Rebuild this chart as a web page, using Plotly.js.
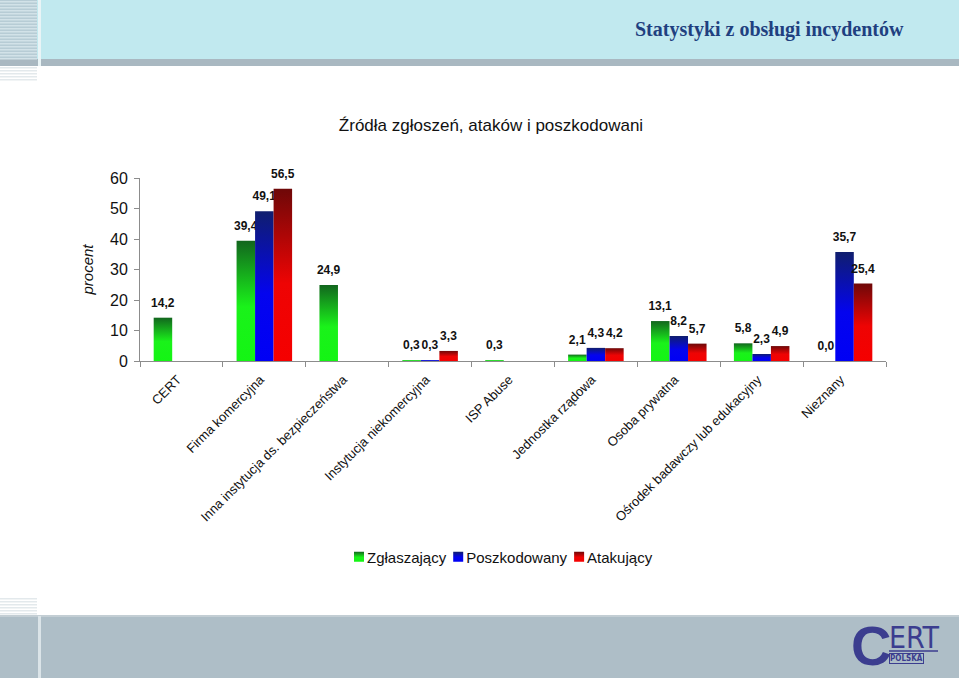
<!DOCTYPE html>
<html>
<head>
<meta charset="utf-8">
<script src="https://cdn.plot.ly/plotly-3.0.1.min.js"></script>
<style>
html,body{margin:0;padding:0;background:#fff;}
#chart{width:959px;height:678px;}
</style>
</head>
<body>
<svg width="0" height="0" style="position:absolute">
  <defs>
    <linearGradient id="grad0" x1="0" y1="0" x2="0" y2="1">
      <stop offset="0" stop-color="#12661e"/>
      <stop offset="0.55" stop-color="#1af21a"/>
      <stop offset="1" stop-color="#14f514"/>
    </linearGradient>
    <linearGradient id="grad1" x1="0" y1="0" x2="0" y2="1">
      <stop offset="0" stop-color="#101e6e"/>
      <stop offset="0.55" stop-color="#0404ee"/>
      <stop offset="1" stop-color="#0000f5"/>
    </linearGradient>
    <linearGradient id="grad2" x1="0" y1="0" x2="0" y2="1">
      <stop offset="0" stop-color="#6e0808"/>
      <stop offset="0.55" stop-color="#ee0404"/>
      <stop offset="1" stop-color="#f50000"/>
    </linearGradient>
  </defs>
</svg>
<div id="chart"></div>
<script>
const categories = ['CERT', 'Firma komercyjna', 'Inna instytucja ds. bezpieczeństwa', 'Instytucja niekomercyjna', 'ISP Abuse', 'Jednostka rządowa', 'Osoba prywatna', 'Ośrodek badawczy lub edukacyjny', 'Nieznany'];
const seriesNames = ['Zgłaszający', 'Poszkodowany', 'Atakujący'];
const zglaszajacy = [14.2, 39.4, 24.9, 0.3, 0.3, 2.1, 13.1, 5.8, 0.0];
const poszkodowany = [null, 49.1, null, 0.3, null, 4.3, 8.2, 2.3, 35.7];
const atakujacy = [null, 56.5, null, 3.3, null, 4.2, 5.7, 4.9, 25.4];
const yTicks = [0, 10, 20, 30, 40, 50, 60];

const W = 959, H = 678;
const M = {l: 140, r: 73, t: 178, b: 317};
const PW = W - M.l - M.r, PH = H - M.t - M.b;
const X = px => (px - M.l) / PW;
const Y = py => (H - M.b - py) / PH;

const FONT = 'Liberation Sans, Arial, sans-serif';
const COND = 'DejaVu Sans Condensed, Liberation Sans Narrow, sans-serif';
const fmt = v => (v === null ? '' : v.toFixed(1).replace('.', ','));

const legendColors = ['#14b814', '#0a0ac8', '#c80a0a'];
const seriesValues = [zglaszajacy, poszkodowany, atakujacy];

const data = seriesValues.map((vals, i) => ({
  type: 'bar',
  name: seriesNames[i],
  x: categories,
  y: vals,
  text: vals.map(fmt),
  textposition: 'outside',
  constraintext: 'none',
  cliponaxis: false,
  textfont: {family: FONT, size: 12, color: '#111', weight: 'bold'},
  marker: {color: legendColors[i], line: {width: 0}},
  hoverinfo: 'skip'
}));

const shapes = [];
function rect(x0, y0, x1, y1, color) {
  shapes.push({type: 'rect', xref: 'paper', yref: 'paper', layer: 'below',
    x0: X(x0), x1: X(x1), y0: Y(y1), y1: Y(y0), fillcolor: color, line: {width: 0}});
}
// header band
rect(0, 0, W, 59, '#c1e9ef');
rect(0, 59, W, 66, '#a9b8c1');
// bottom band
rect(0, 616, W, H, '#aebec7');
rect(0, 615, W, 617, '#c3ced4');
// left stripes
rect(0, 0, 37, 59, '#b7ccd5');
for (let y = 1; y < 59; y += 3) rect(0, y, 37, y + 1.5, '#d2e2e8');
for (let y = 67; y < 80; y += 3) rect(0, y, 37, y + 1.5, '#e3e9ec');
for (let y = 598; y < 615; y += 3) rect(0, y, 37, y + 1.5, '#e3e9ec');
rect(38, 0, 41, 66, '#e9f4f6');
rect(38, 616, 41, H, '#dbe4e8');

const annotations = [
  {text: 'Statystyki z obsługi incydentów', xref: 'paper', yref: 'paper', x: X(633), y: Y(29),
   xanchor: 'left', yanchor: 'middle', showarrow: false,
   font: {family: 'Liberation Serif, DejaVu Serif, serif', size: 20, color: '#1f4080', weight: 'bold'}},
  // logo
  {text: 'C', xref: 'paper', yref: 'paper', x: X(849), y: Y(645), xanchor: 'left', yanchor: 'middle',
   showarrow: false, font: {family: FONT, size: 56, color: '#3b3d8f', weight: 'bold'}},
  {text: 'ERT', xref: 'paper', yref: 'paper', x: X(887), y: Y(637), xanchor: 'left', yanchor: 'middle',
   showarrow: false, font: {family: COND, size: 30, color: '#3b3d8f'}},
  {text: 'POLSKA', xref: 'paper', yref: 'paper', x: X(906), y: Y(658), xanchor: 'center', yanchor: 'middle',
   showarrow: false, bordercolor: '#3b3d8f', borderwidth: 1, borderpad: 0,
   font: {family: COND, size: 8, color: '#3b3d8f', weight: 'bold'}}
];
shapes.push({type: 'line', xref: 'paper', yref: 'paper', x0: X(889), x1: X(938), y0: Y(651), y1: Y(651),
  line: {color: '#3b3d8f', width: 1.5}});

const layout = {
  width: W, height: H,
  margin: M,
  paper_bgcolor: '#ffffff',
  plot_bgcolor: '#ffffff',
  font: {family: FONT, color: '#111'},
  title: {text: 'Źródła zgłoszeń, ataków i poszkodowani', xref: 'paper', x: X(491), xanchor: 'center',
    yref: 'container', y: 1 - 125 / H, yanchor: 'middle', font: {family: FONT, size: 17, color: '#111'}},
  barmode: 'group',
  bargap: 0.33,
  bargroupgap: 0,
  showlegend: true,
  legend: {orientation: 'h', x: X(503), xanchor: 'center', y: Y(557), yanchor: 'middle',
    font: {family: FONT, size: 15, color: '#111'}, traceorder: 'normal', bgcolor: 'rgba(0,0,0,0)'},
  xaxis: {type: 'category', range: [-0.5, categories.length - 0.5], tickson: 'boundaries',
    ticks: 'outside', ticklen: 5, tickcolor: '#8c8c8c', showline: true, linecolor: '#8c8c8c', linewidth: 1,
    showgrid: false, zeroline: false, tickangle: -45, tickfont: {family: FONT, size: 13, color: '#111'},
    ticklabelstandoff: 5, ticklabelshift: -4, fixedrange: true},
  yaxis: {range: [0, 60], tickvals: yTicks, ticktext: yTicks.map(String), ticks: 'outside', ticklen: 5,
    tickcolor: '#8c8c8c', showline: true, linecolor: '#8c8c8c', linewidth: 1, showgrid: false, zeroline: false,
    tickfont: {family: FONT, size: 16, color: '#111'}, ticklabelstandoff: 3,
    title: {text: 'procent', standoff: 12, font: {family: FONT, size: 15, color: '#111', style: 'italic'}},
    fixedrange: true},
  shapes: shapes,
  annotations: annotations
};

function applyGradients() {
  const traces = document.querySelectorAll('#chart .barlayer .trace');
  traces.forEach((t, i) => {
    t.querySelectorAll('.point path').forEach(p => { p.style.fill = 'url(#grad' + i + ')'; });
    t.querySelectorAll('.point text').forEach(tx => {
      const tr = tx.getAttribute('transform') || '';
      tx.setAttribute('transform', 'translate(0,-5) ' + tr);
    });
  });
}

function fixLegend() {
  const items = Array.from(document.querySelectorAll('#chart .legend .traces'));
  if (!items.length) return;
  const parse = g => {
    const m = /translate\(\s*([-\d.e]+)[ ,]+([-\d.e]+)\s*\)/.exec(g.getAttribute('transform') || '');
    return m ? [parseFloat(m[1]), parseFloat(m[2])] : [0, 0];
  };
  let x = parse(items[0])[0];
  items.forEach((g, i) => {
    const t = g.querySelector('text.legendtext');
    if (t) t.setAttribute('x', 28);
    g.querySelectorAll('.legendsymbols path, .legendpoints path').forEach(p => {
      p.setAttribute('d', 'M5,5H-5V-5H5Z');
      p.style.fill = 'url(#grad' + i + ')';
      p.style.stroke = 'none';
    });
    const y = parse(g)[1];
    g.setAttribute('transform', 'translate(' + x + ',' + y + ')');
    const w = t ? t.getComputedTextLength() : 60;
    x += w + 20;
  });
  const sym = items[0].querySelector('.legendsymbols path, .legendpoints path');
  if (sym) {
    const box = sym.getBoundingClientRect();
    const chartBox = document.getElementById('chart').getBoundingClientRect();
    const delta = 354 - (box.left - chartBox.left);
    items.forEach(g => {
      const [gx, gy] = parse(g);
      g.setAttribute('transform', 'translate(' + (gx + delta) + ',' + gy + ')');
    });
  }
}

Plotly.newPlot('chart', data, layout, {staticPlot: true, displayModeBar: false}).then(() => {
  applyGradients();
  fixLegend();
});
</script>
</body>
</html>
